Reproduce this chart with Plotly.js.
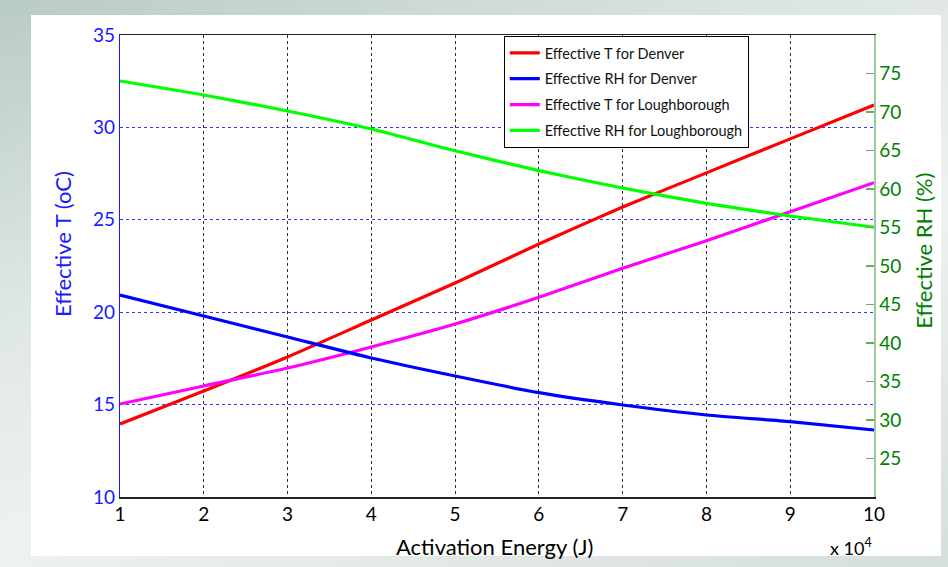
<!DOCTYPE html>
<html>
<head>
<meta charset="utf-8">
<script src="https://cdn.plot.ly/plotly-3.0.1.min.js"></script>
<style>
  html, body { margin: 0; padding: 0; width: 948px; height: 567px; overflow: hidden; }
  body { background: linear-gradient(160deg, #b9cbc5 0%, #dfe7e4 35%, #eef2f0 60%, #d5deda 100%); position: relative; }
  #card { position: absolute; left: 31px; top: 15px; width: 910px; height: 541px; background: #ffffff; }
  #chart { position: absolute; left: 0; top: 0; width: 948px; height: 567px; }
</style>
</head>
<body>
<div id="card"></div>
<div id="chart"></div>
<script>
// Activation energy (x 10^4 J)
const activationEnergy = [1, 2, 3, 4, 5, 6, 7, 8, 9, 10];
// Effective temperature (oC) - left axis
const tDenver = [13.95, 15.74, 17.58, 19.58, 21.58, 23.69, 25.69, 27.54, 29.38, 31.21];
const tLoughborough = [15.03, 16.01, 16.98, 18.12, 19.36, 20.81, 22.38, 23.87, 25.44, 27.01];
// Effective RH (%) - right axis
const rhDenver = [46.23, 43.51, 40.78, 38.05, 35.71, 33.55, 31.95, 30.65, 29.78, 28.70];
const rhLoughborough = [74.03, 72.21, 70.13, 67.79, 64.97, 62.38, 60.13, 58.14, 56.49, 55.03];

const seriesNames = ['Effective T for Denver', 'Effective RH for Denver', 'Effective T for Loughborough', 'Effective RH for Loughborough'];
const xTicks = [1, 2, 3, 4, 5, 6, 7, 8, 9, 10];
const yTicks = [10, 15, 20, 25, 30, 35];
const y2Ticks = [25, 30, 35, 40, 45, 50, 55, 60, 65, 70, 75];

const FONT = 'Lato, "Open Sans", sans-serif';

function mk(y, name, color, axis, grp) {
  return { x: activationEnergy, y: y, name: name, type: 'scatter', mode: 'lines',
    yaxis: axis, legendgroup: grp, line: { color: color, width: 3.2, shape: 'spline', smoothing: 0.6 } };
}

const data = [
  mk(tDenver, seriesNames[0], '#ff0000', 'y', 'g1'),
  mk(rhDenver, seriesNames[1], '#0000ff', 'y2', 'g2'),
  mk(tLoughborough, seriesNames[2], '#ff00ff', 'y', 'g3'),
  mk(rhLoughborough, seriesNames[3], '#00ff00', 'y2', 'g4')
];

const layout = {
  width: 948, height: 567,
  margin: { l: 120, r: 74, t: 35, b: 70 },
  paper_bgcolor: 'rgba(0,0,0,0)',
  plot_bgcolor: '#ffffff',
  font: { family: FONT, size: 17, color: '#000' },
  showlegend: true,
  legend: {
    x: 0.509, y: 0.998, xanchor: 'left', yanchor: 'top',
    bgcolor: '#ffffff', bordercolor: '#000', borderwidth: 1,
    font: { family: FONT, size: 14.5, color: '#111' },
    tracegroupgap: 4
  },
  xaxis: {
    range: [1, 10], tickvals: xTicks, ticktext: xTicks.map(String),
    showgrid: true, gridcolor: '#333', griddash: 'dot', gridwidth: 1,
    showline: true, linecolor: '#222', linewidth: 1.5, mirror: true,
    ticks: '', zeroline: false,
    tickfont: { size: 19, color: '#000' }
  },
  yaxis: {
    range: [10, 35], tickvals: yTicks,
    showgrid: true, gridcolor: '#3333ff', griddash: 'dot', gridwidth: 1,
    showline: true, linecolor: '#1a1aff', linewidth: 1.2,
    ticks: '', zeroline: false,
    tickfont: { size: 19, color: '#1a1aff' }
  },
  yaxis2: {
    range: [20, 80], tickvals: y2Ticks, overlaying: 'y', side: 'right',
    showgrid: false, zeroline: false,
    showline: true, linecolor: '#99cc99', linewidth: 1.5,
    ticks: 'inside', ticklen: 8, tickcolor: '#66aa66', tickwidth: 1.2,
    tickfont: { size: 19, color: '#008000' }
  },
  annotations: [
    { xref: 'paper', yref: 'paper', x: 0.497, y: -0.108, xanchor: 'center', yanchor: 'middle',
      text: 'Activation Energy (J)', showarrow: false, font: { family: FONT, size: 22, color: '#000' } },
    { xref: 'paper', yref: 'paper', x: -0.0769, y: 0.5476, xanchor: 'center', yanchor: 'middle', textangle: -90,
      text: 'Effective T (oC)', showarrow: false, font: { family: FONT, size: 22, color: '#1a1aff' } },
    { xref: 'paper', yref: 'paper', x: 1.066, y: 0.5325, xanchor: 'center', yanchor: 'middle', textangle: -90,
      text: 'Effective RH (%)', showarrow: false, font: { family: FONT, size: 22, color: '#008000' } },
    { xref: 'paper', yref: 'paper', x: 0.9695, y: -0.108, xanchor: 'center', yanchor: 'middle',
      text: 'x 10<sup>4</sup>', showarrow: false, font: { family: FONT, size: 18, color: '#000' } }
  ]
};

Plotly.newPlot('chart', data, layout, { displayModeBar: false, staticPlot: true });
</script>
</body>
</html>
